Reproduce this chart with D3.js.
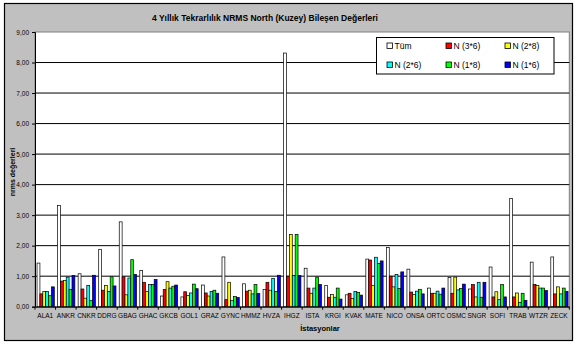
<!DOCTYPE html>
<html>
<head>
<meta charset="utf-8">
<script src="https://cdn.jsdelivr.net/npm/d3@7/dist/d3.min.js"></script>
<style>
  html, body { margin: 0; padding: 0; background: #fff; }
  svg { display: block; font-family: "Liberation Sans", Arial, sans-serif; }
</style>
</head>
<body>
<svg id="chart" width="576" height="344"></svg>
<script>
// Stations on the category axis
const stations = ["ALA1","ANKR","CNKR","DDRG","GBAG","GHAC","GKCB","GOL1","GRAZ","GYNC",
  "HMMZ","HVZA","IHGZ","ISTA","KRGI","KVAK","MATE","NICO","ONSA","ORTC",
  "OSMC","SNGR","SOFI","TRAB","WTZR","ZECK"];

// NRMS north component per station, one array per solution set
const tum  = [1.43,3.32,1.08,1.88,2.78,1.19,0.35,0.32,0.71,1.63,0.75,0.56,8.31,1.26,0.69,0.39,1.56,1.94,1.23,0.61,0.96,0.58,1.30,3.55,1.46,1.63];
const n36  = [0.42,0.84,0.58,0.54,0.98,0.80,0.56,0.49,0.45,0.23,0.51,0.80,1.00,0.61,0.31,0.44,1.53,1.00,0.48,0.44,0.44,0.73,0.32,0.32,0.73,0.42];
const n28  = [0.50,0.86,0.28,0.70,0.39,0.50,0.82,0.37,0.35,0.80,0.54,0.54,2.37,0.44,0.40,0.27,0.70,0.65,0.40,0.44,0.97,0.32,0.49,0.45,0.70,0.65];
const n26  = [0.50,0.97,0.70,0.50,0.94,0.73,0.61,0.45,0.50,0.21,0.42,0.93,1.02,0.61,0.31,0.50,1.62,1.06,0.51,0.51,0.55,0.80,0.23,0.14,0.61,0.42];
const n18  = [0.36,0.57,0.21,0.98,1.54,0.73,0.67,0.74,0.54,0.33,0.73,0.50,2.37,0.97,0.61,0.47,1.42,0.60,0.57,0.41,0.60,0.31,0.73,0.44,0.61,0.61];
const n16  = [0.65,1.02,1.03,0.68,1.06,0.89,0.71,0.59,0.44,0.30,0.43,1.03,1.02,0.73,0.25,0.38,1.50,1.14,0.42,0.61,0.74,0.80,0.32,0.21,0.53,0.50];

const seriesNames  = ["Tüm","N (3*6)","N (2*8)","N (2*6)","N (1*8)","N (1*6)"];
const seriesValues = [tum, n36, n28, n26, n18, n16];
const seriesColors = ["#ffffff","#ff0000","#ffff00","#00ffff","#00ff00","#0000ff"];

const yTicks = [0,1,2,3,4,5,6,7,8,9];

const titleText = "4 Yıllık Tekrarlılık NRMS North (Kuzey) Bileşen Değerleri";
const yTitle = "nrms değerleri";
const xTitle = "İstasyonlar";

const svg = d3.select("#chart");
const plot = { left: 35, right: 569.3, top: 32, bottom: 306.7 };

// chart area
svg.append("rect")
  .attr("x", 4.5).attr("y", 3.5).attr("width", 568).attr("height", 337)
  .attr("fill", "#c0c0c0").attr("stroke", "#000").attr("stroke-width", 1.2);

// plot area
svg.append("rect")
  .attr("x", plot.left).attr("y", plot.top)
  .attr("width", plot.right - plot.left).attr("height", plot.bottom - plot.top)
  .attr("fill", "#fff").attr("stroke", "#808080").attr("stroke-width", 1);

const y = d3.scaleLinear().domain([0, 9]).range([plot.bottom, plot.top]);
const x0 = d3.scaleBand().domain(stations).range([plot.left, plot.right])
  .paddingInner(0.16).paddingOuter(0.08);
const x1 = d3.scaleBand().domain(seriesNames).range([0, x0.bandwidth()]).padding(0);

const loc = d3.formatLocale({ decimal: ",", thousands: ".", grouping: [3], currency: ["", ""] });
const fmt = loc.format(".2f");

// gridlines
svg.append("g").selectAll("line").data(yTicks.filter(d => d > 0 && d < 9)).join("line")
  .attr("x1", plot.left).attr("x2", plot.right)
  .attr("y1", d => y(d)).attr("y2", d => y(d))
  .attr("stroke", "#000").attr("stroke-width", 1);

// legend
const lg = svg.append("g");
lg.append("rect").attr("x", 376.5).attr("y", 37.5).attr("width", 177.5).attr("height", 36.5)
  .attr("fill", "#fff").attr("stroke", "#000").attr("stroke-width", 1);
const legCols = [389, 448, 507];
const legRows = [46, 65];
seriesNames.forEach((name, i) => {
  const cx = legCols[i % 3], cy = legRows[Math.floor(i / 3)];
  lg.append("rect").attr("x", cx - 2).attr("y", cy - 3).attr("width", 5.5).attr("height", 5.5)
    .attr("fill", seriesColors[i]).attr("stroke", "#000").attr("stroke-width", 0.8);
  lg.append("text").attr("x", cx + 5.5).attr("y", cy + 3)
    .attr("font-size", 8.5).attr("fill", "#000").text(name);
});

// bars
const groups = svg.append("g").selectAll("g").data(stations).join("g")
  .attr("transform", d => `translate(${x0(d)},0)`);
groups.selectAll("rect")
  .data((d, i) => seriesNames.map((s, k) => ({ s, k, v: seriesValues[k][i] })))
  .join("rect")
  .attr("x", d => x1(d.s) + 0.4)
  .attr("width", x1.bandwidth())
  .attr("y", d => y(d.v))
  .attr("height", d => y(0) - y(d.v))
  .attr("fill", d => seriesColors[d.k])
  .attr("stroke", "#000").attr("stroke-width", 0.7);

// y axis
const yAxis = d3.axisLeft(y).tickValues(yTicks).tickFormat(fmt).tickSize(3).tickPadding(3);
const gy = svg.append("g").attr("transform", `translate(${plot.left},0)`).call(yAxis);
gy.select(".domain").attr("stroke", "#000");
gy.selectAll("text").attr("font-size", 6.5).attr("fill", "#000")
  .attr("font-family", "Liberation Sans, Arial, sans-serif");

// x axis
const xAxis = d3.axisBottom(x0).tickSize(0).tickPadding(6.5);
const gx = svg.append("g").attr("transform", `translate(0,${plot.bottom})`).call(xAxis);
gx.select(".domain").attr("stroke", "#000");
gx.selectAll("text").attr("font-size", 6.5).attr("fill", "#000")
  .attr("font-family", "Liberation Sans, Arial, sans-serif");
// category boundary ticks
const step = x0.step();
const bounds = d3.range(stations.length + 1).map(i => plot.left + i * step);
svg.append("g").selectAll("line").data(bounds).join("line")
  .attr("x1", d => d).attr("x2", d => d)
  .attr("y1", plot.bottom).attr("y2", plot.bottom + 3)
  .attr("stroke", "#000").attr("stroke-width", 1);

// titles
svg.append("text").attr("x", 265).attr("y", 21).attr("text-anchor", "middle")
  .attr("font-size", 8.5).attr("font-weight", "bold").text(titleText);
svg.append("text").attr("x", 320).attr("y", 331).attr("text-anchor", "middle")
  .attr("font-size", 7.5).attr("font-weight", "bold").text(xTitle);
svg.append("text").attr("transform", `translate(15,172) rotate(-90)`).attr("text-anchor", "middle")
  .attr("font-size", 7).attr("font-weight", "bold").text(yTitle);
</script>
</body>
</html>
